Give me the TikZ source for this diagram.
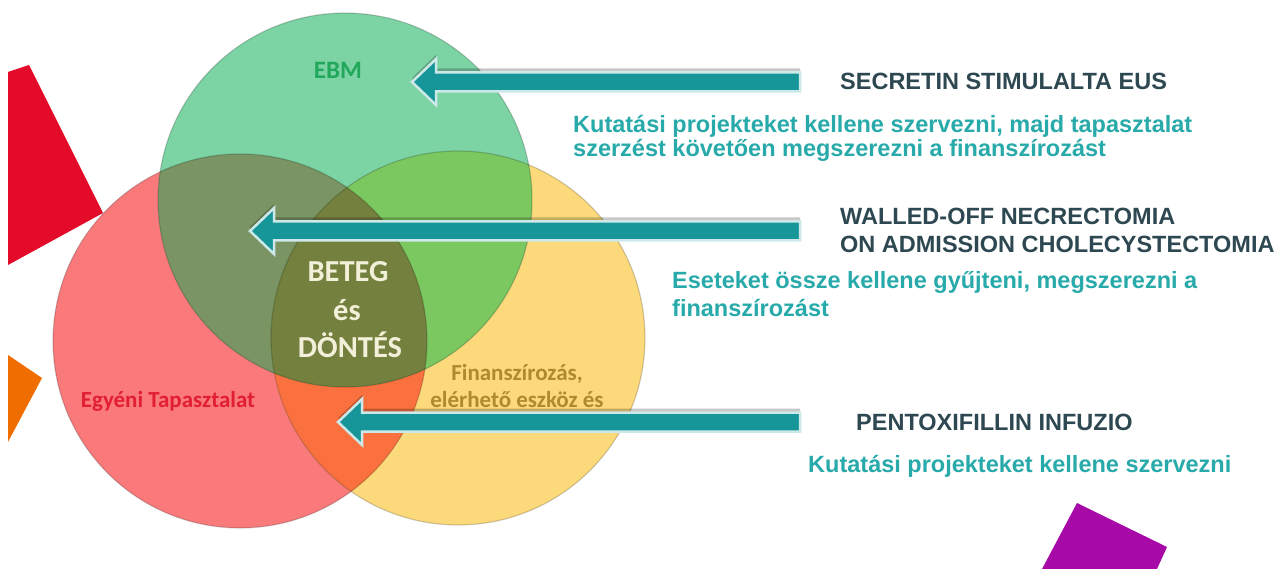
\documentclass[tikz,border=0pt]{standalone}
\usepackage{fontspec}
\setmainfont{Liberation Sans}
\newfontfamily\calfont{Carlito}
\usetikzlibrary{calc}

% region colours of the three-set diagram
\definecolor{gOnly}{RGB}{124,211,163}
\definecolor{rOnly}{RGB}{250,122,124}
\definecolor{yOnly}{RGB}{252,217,122}
\definecolor{grMix}{RGB}{122,148,100}
\definecolor{gyMix}{RGB}{124,200,96}
\definecolor{ryMix}{RGB}{250,112,62}
\definecolor{allMix}{RGB}{116,128,62}
% labels and arrows
\definecolor{ebmGreen}{RGB}{34,168,92}
\definecolor{expRed}{RGB}{226,30,50}
\definecolor{finBrown}{RGB}{176,138,46}
\definecolor{centerCream}{RGB}{242,240,216}
\definecolor{arrowTeal}{RGB}{22,150,152}
\definecolor{arrowEdge}{RGB}{205,232,232}
\definecolor{headSlate}{RGB}{46,72,82}
\definecolor{bodyTeal}{RGB}{40,170,170}
\definecolor{decoRed}{RGB}{228,10,42}
\definecolor{decoOrange}{RGB}{240,110,0}
\definecolor{decoPurple}{RGB}{168,10,168}

% outline of a left-pointing block arrow from tail #1 to tip #2
\newcommand\blockarrowpath[2]{%
  ($(#1)+(0,-9.5)$) -- ($(#2)+(24,-9.5)$) -- ($(#2)+(24,-23)$) -- (#2)
  -- ($(#2)+(24,23)$) -- ($(#2)+(24,9.5)$) -- ($(#1)+(0,9.5)$) -- cycle}

\begin{document}
\begin{tikzpicture}[x=1pt,y=-1pt,
  ring/.style={draw=black, draw opacity=.18, line width=1.2pt},
  arrowshade/.style={fill=black, opacity=.22, transform canvas={yshift=4pt}},
  arrowbody/.style={fill=arrowTeal, draw=arrowEdge, line width=2.5pt, line join=miter},
  setlabel/.style={font=\calfont\bfseries\fontsize{23}{26}\selectfont, inner sep=0pt},
  centerlabel/.style={font=\calfont\bfseries\fontsize{30.5}{34}\selectfont, text=centerCream, inner sep=0pt, anchor=base},
  headline/.style={font=\bfseries\fontsize{23.5}{26}\selectfont, text=headSlate, inner sep=0pt, anchor=base west},
  bodyline/.style={font=\bfseries\fontsize{23.5}{26}\selectfont, text=bodyTeal, inner sep=0pt, anchor=base west}]

\fill[white] (0,0) rectangle (1280,569);
\useasboundingbox (0,0) rectangle (1280,569);

% decorative corner shapes
\fill[decoRed] (8,72) -- (29,65) -- (103,213) -- (8,265) -- cycle;
\fill[decoOrange] (8,355) -- (42,378) -- (8,442) -- cycle;
\fill[decoPurple] (1077,503) -- (1167,547) -- (1157,569) -- (1042,569) -- cycle;

% centres of the three sets
\coordinate (cG) at (345,200);
\coordinate (cR) at (240,341);
\coordinate (cY) at (458,338);
\def\circG{(cG) circle[radius=187pt]}
\def\circR{(cR) circle[radius=187pt]}
\def\circY{(cY) circle[radius=187pt]}

% single regions
\fill[rOnly] \circR;
\fill[yOnly] \circY;
\fill[gOnly] \circG;
% pairwise overlaps
\begin{scope}
  \clip \circR;
  \fill[ryMix] \circY;
\end{scope}
\begin{scope}
  \clip \circG;
  \fill[grMix] \circR;
  \fill[gyMix] \circY;
  \clip \circR;
  \fill[allMix] \circY;
\end{scope}
\draw[ring] \circR;
\draw[ring] \circY;
\draw[ring] \circG;

% set labels
\node[setlabel, text=ebmGreen, font=\calfont\bfseries\fontsize{25}{28}\selectfont, anchor=base] (ebm) at (338,79) {EBM};
\node[setlabel, text=expRed, anchor=base] (exp) at (168,407) {Egyéni Tapasztalat};
\node[setlabel, text=finBrown, anchor=base] (fin1) at (517,380) {Finanszírozás,};
\node[setlabel, text=finBrown, anchor=base] (fin2) at (517,407) {elérhető eszköz és};

% centre label
\node[centerlabel] (beteg) at (348,282) {BETEG};
\node[centerlabel] (es) at (347,321) {és};
\node[centerlabel] (dontes) at (350,358) {DÖNTÉS};

% arrow ends
\coordinate (t1) at (800,82);  \coordinate (h1) at (412,82);
\coordinate (t2) at (800,231); \coordinate (h2) at (250,231);
\coordinate (t3) at (800,422); \coordinate (h3) at (338,422);

\foreach \t/\h in {t1/h1, t2/h2, t3/h3}{
  \path[arrowshade] \blockarrowpath{\t}{\h};
  \path[arrowbody] \blockarrowpath{\t}{\h};
}

% topics and notes
\node[headline] (sec) at (840,90) {SECRETIN STIMULALTA EUS};
\node[bodyline] (sec1) at (573,133) {Kutatási projekteket kellene szervezni, majd tapasztalat};
\node[bodyline] (sec2) at (573,157) {szerzést követően megszerezni a finanszírozást};

\node[headline] (wal1) at (840,225) {WALLED-OFF NECRECTOMIA};
\node[headline] (wal2) at (840,253) {ON ADMISSION CHOLECYSTECTOMIA};
\node[bodyline] (wal3) at (672,289) {Eseteket össze kellene gyűjteni, megszerezni a};
\node[bodyline] (wal4) at (672,317) {finanszírozást};

\node[headline] (pen1) at (856,430) {PENTOXIFILLIN INFUZIO};
\node[bodyline] (pen2) at (808,472) {Kutatási projekteket kellene szervezni};
\end{tikzpicture}
\end{document}
